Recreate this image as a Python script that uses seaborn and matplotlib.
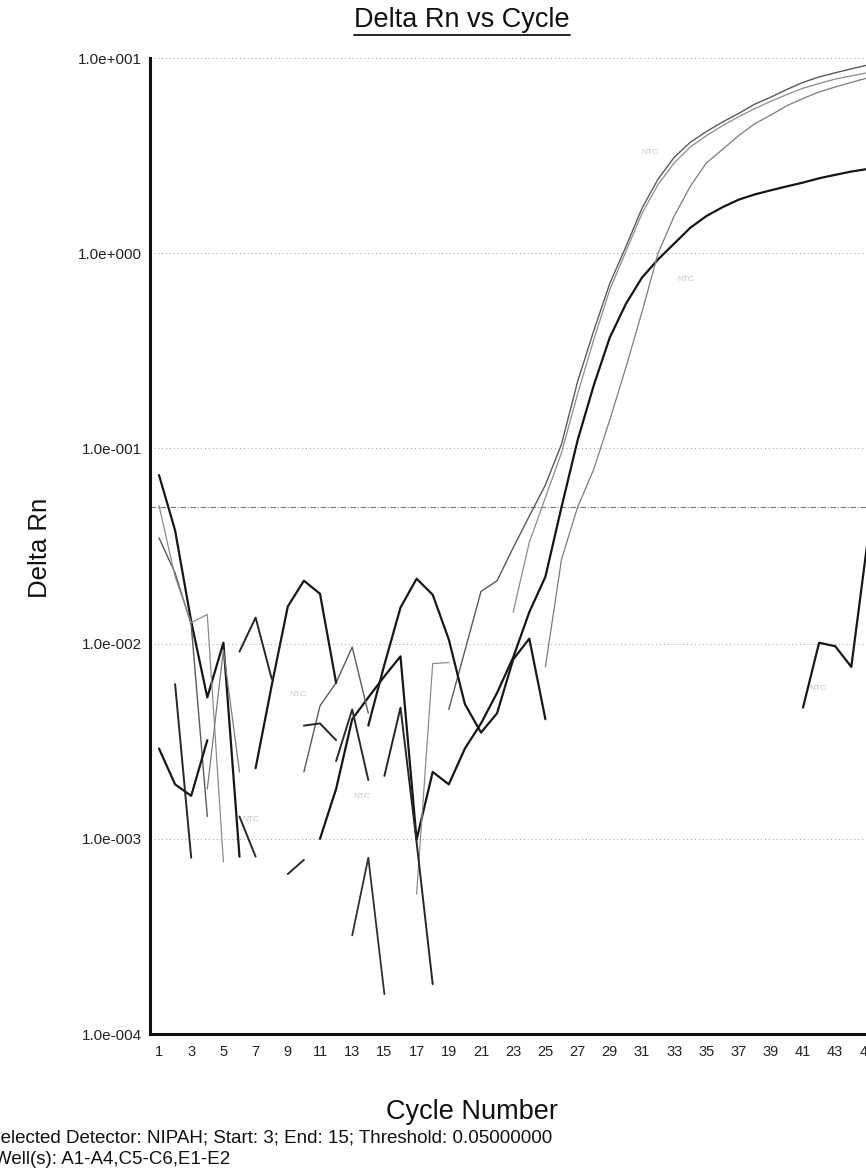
import numpy as np
import pandas as pd
import matplotlib
matplotlib.use("Agg")
import matplotlib.pyplot as plt
import seaborn as sns
from matplotlib.lines import Line2D
from matplotlib.ticker import NullLocator

nan = np.nan

# ---------------- data ----------------
cycles = list(range(1, 46))

well_A1 = [0.073, 0.038, 0.013, 0.0053, 0.0101, 0.00081, nan, nan, nan, nan,
           0.0010, 0.0018, 0.0041, 0.0053, 0.0068, 0.0086, 0.00099, 0.0022, 0.0019, 0.0029,
           0.0039, 0.0056, 0.0085, 0.0145, 0.022, 0.05, 0.11, 0.21, 0.37, 0.55,
           0.75, 0.93, 1.12, 1.35, 1.55, 1.72, 1.88, 2.0, 2.1, 2.2,
           2.3, 2.42, 2.52, 2.62, 2.7]

well_A2 = [0.0348, 0.023, 0.0125, 0.0013, nan, nan, nan, nan, nan, 0.0022,
           0.0048, 0.0063, 0.0096, 0.0044, nan, nan, nan, nan, 0.0046, 0.0092,
           0.0185, 0.021, 0.031, 0.045, 0.065, 0.105, 0.22, 0.40, 0.70, 1.08,
           1.7, 2.4, 3.1, 3.7, 4.2, 4.7, 5.2, 5.8, 6.3, 6.9,
           7.5, 8.0, 8.4, 8.8, 9.2]

well_A3 = [0.051, 0.022, 0.0128, 0.0141, 0.00076, nan, nan, nan, nan, nan,
           nan, nan, nan, nan, nan, nan, 0.00052, 0.0079, 0.0080, nan,
           nan, nan, 0.0145, 0.033, 0.056, 0.095, 0.19, 0.36, 0.65, 1.02,
           1.6, 2.25, 2.9, 3.5, 4.0, 4.5, 5.0, 5.5, 6.0, 6.5,
           7.0, 7.4, 7.8, 8.1, 8.4]

well_A4 = [nan, nan, nan, 0.0018, 0.0093, 0.0022, nan, nan, nan, nan,
           nan, nan, nan, nan, nan, nan, nan, nan, nan, nan,
           nan, nan, nan, nan, 0.0076, 0.027, 0.05, 0.078, 0.14, 0.26,
           0.50, 1.0, 1.55, 2.2, 2.9, 3.4, 4.0, 4.6, 5.1, 5.7,
           6.2, 6.7, 7.1, 7.5, 7.9]

well_C5 = [0.0029, 0.0019, 0.00166, 0.0032, nan, nan, 0.0023, 0.0061, 0.0155, 0.021,
           0.018, 0.0063, nan, 0.0038, 0.0078, 0.0153, 0.0215, 0.0178, 0.0105, 0.0049,
           0.0035, 0.0044, 0.0083, 0.0106, 0.0041, nan, nan, nan, nan, nan,
           nan, nan, nan, nan, nan, nan, nan, nan, nan, nan,
           0.0047, 0.0101, 0.0097, 0.0076, 0.033]

well_C6 = [nan, 0.0062, 0.0008, nan, nan, 0.0091, 0.0136, 0.0066, nan, 0.0038,
           0.0039, 0.0032, nan, nan, 0.0021, 0.0047, 0.00096, 0.00018, nan, nan,
           nan, nan, nan, nan, nan, nan, nan, nan, nan, nan,
           nan, nan, nan, nan, nan, nan, nan, nan, nan, nan,
           nan, nan, nan, nan, nan]

well_E1 = [nan, nan, nan, nan, nan, 0.0013, 0.00081, nan, 0.00066, 0.00078,
           nan, 0.0025, 0.0046, 0.0020, nan, nan, nan, nan, nan, nan,
           nan, nan, nan, nan, nan, nan, nan, nan, nan, nan,
           nan, nan, nan, nan, nan, nan, nan, nan, nan, nan,
           nan, nan, nan, nan, nan]

well_E2 = [nan, nan, nan, nan, nan, nan, nan, nan, nan, nan,
           nan, nan, 0.00032, 0.0008, 0.00016, nan, nan, nan, nan, nan,
           nan, nan, nan, nan, nan, nan, nan, nan, nan, nan,
           nan, nan, nan, nan, nan, nan, nan, nan, nan, nan,
           nan, nan, nan, nan, nan]

well_names = ["A1", "A2", "A3", "A4", "C5", "C6", "E1", "E2"]
well_values = [well_A1, well_A2, well_A3, well_A4, well_C5, well_C6, well_E1, well_E2]

threshold = 0.05
y_ticks = [1e-4, 1e-3, 1e-2, 1e-1, 1e0, 1e1]
y_tick_labels = ["1.0e-004", "1.0e-003", "1.0e-002", "1.0e-001", "1.0e+000", "1.0e+001"]
x_ticks = list(range(1, 46, 2))
x_tick_labels = [str(c) for c in x_ticks]

note_label = "NTC"
note_cycles = [9.6, 13.6, 6.7, 41.9, 31.5, 33.7]
note_values = [0.0055, 0.00164, 0.00126, 0.0059, 3.27, 0.73]

# ---------------- styling ----------------
well_colors = ["#161616", "#5a5a5a", "#8c8c8c", "#7c7c7c", "#181818", "#262626", "#2a2a2a", "#303030"]
well_widths = [1.6, 1.0, 0.9, 0.9, 1.6, 1.4, 1.4, 1.3]

sns.set_theme(style="white")
plt.rcParams["font.family"] = ["Liberation Sans", "DejaVu Sans"]

W, H = 866, 1175
fig = plt.figure(figsize=(W / 100, H / 100), dpi=100)
ax_left, ax_right, ax_top, ax_bottom = 150, 870, 58, 1034
ax = fig.add_axes([ax_left / W, 1 - ax_bottom / H, (ax_right - ax_left) / W, (ax_bottom - ax_top) / H])

frames = []
for name, vals in zip(well_names, well_values):
    v = np.array(vals, dtype=float)
    seg = np.cumsum(np.isnan(v))
    frames.append(pd.DataFrame({"cycle": cycles, "delta_rn": v, "well": name, "seg": seg}))
df = pd.concat(frames, ignore_index=True)
df = df.dropna(subset=["delta_rn"])

for name, col, lw in zip(well_names, well_colors, well_widths):
    sub = df[df["well"] == name]
    sns.lineplot(data=sub, x="cycle", y="delta_rn", units="seg", estimator=None,
                 color=col, linewidth=lw, ax=ax, legend=False, zorder=3)

ax.set_yscale("log")
ax.set_ylim(1e-4, 1e1)
ax.set_xlim(1 + (ax_left - 159) / 16.1, 1 + (ax_right - 159) / 16.1)

# grid + threshold
for yv in y_ticks[1:]:
    ax.axhline(yv, color="#9a9a9a", lw=0.7, ls=(0, (1, 3)), zorder=1)
ax.axhline(threshold, color="#777777", lw=0.8, ls=(0, (5, 1.5, 1, 1.5)), zorder=2)

ax.set_yticks(y_ticks)
ax.set_yticklabels(y_tick_labels)
ax.yaxis.set_minor_locator(NullLocator())
ax.set_xticks(x_ticks)
ax.set_xticklabels(x_tick_labels)
ax.tick_params(axis="both", length=0, colors="#222222")
ax.tick_params(axis="y", pad=6, labelsize=11)
ax.tick_params(axis="x", pad=8, labelsize=10.5)
ax.set_xlabel("")
ax.set_ylabel("")

for s in ["top", "right"]:
    ax.spines[s].set_visible(False)
for s in ["left", "bottom"]:
    ax.spines[s].set_color("#111111")
    ax.spines[s].set_linewidth(2.2)

for xc, yv in zip(note_cycles, note_values):
    ax.text(xc, yv, note_label, fontsize=6, color="#c4c4c4", ha="center", va="center", zorder=2)

# texts
title = fig.text(462 / W, 1 - 20 / H, "Delta Rn vs Cycle", ha="center", va="center", fontsize=19.5, color="#111111")
fig.text(472 / W, 1 - 1112 / H, "Cycle Number", ha="center", va="center", fontsize=19.5, color="#111111")
fig.text(40 / W, 1 - 548 / H, "Delta Rn", ha="center", va="center", rotation=90, fontsize=18.5, color="#111111")
fig.text(-12 / W, 1 - 1138 / H, "Selected Detector: NIPAH; Start: 3; End: 15; Threshold: 0.05000000",
         ha="left", va="center", fontsize=13.5, color="#111111")
fig.text(-6 / W, 1 - 1160 / H, "Well(s): A1-A4,C5-C6,E1-E2",
         ha="left", va="center", fontsize=13.5, color="#111111")

fig.canvas.draw()
bb = title.get_window_extent(renderer=fig.canvas.get_renderer())
yline = (bb.y0 - 2) / H
fig.add_artist(Line2D([bb.x0 / W, bb.x1 / W], [yline, yline], transform=fig.transFigure,
                      color="#111111", lw=1.3))

fig.savefig("out.png", dpi=100)
